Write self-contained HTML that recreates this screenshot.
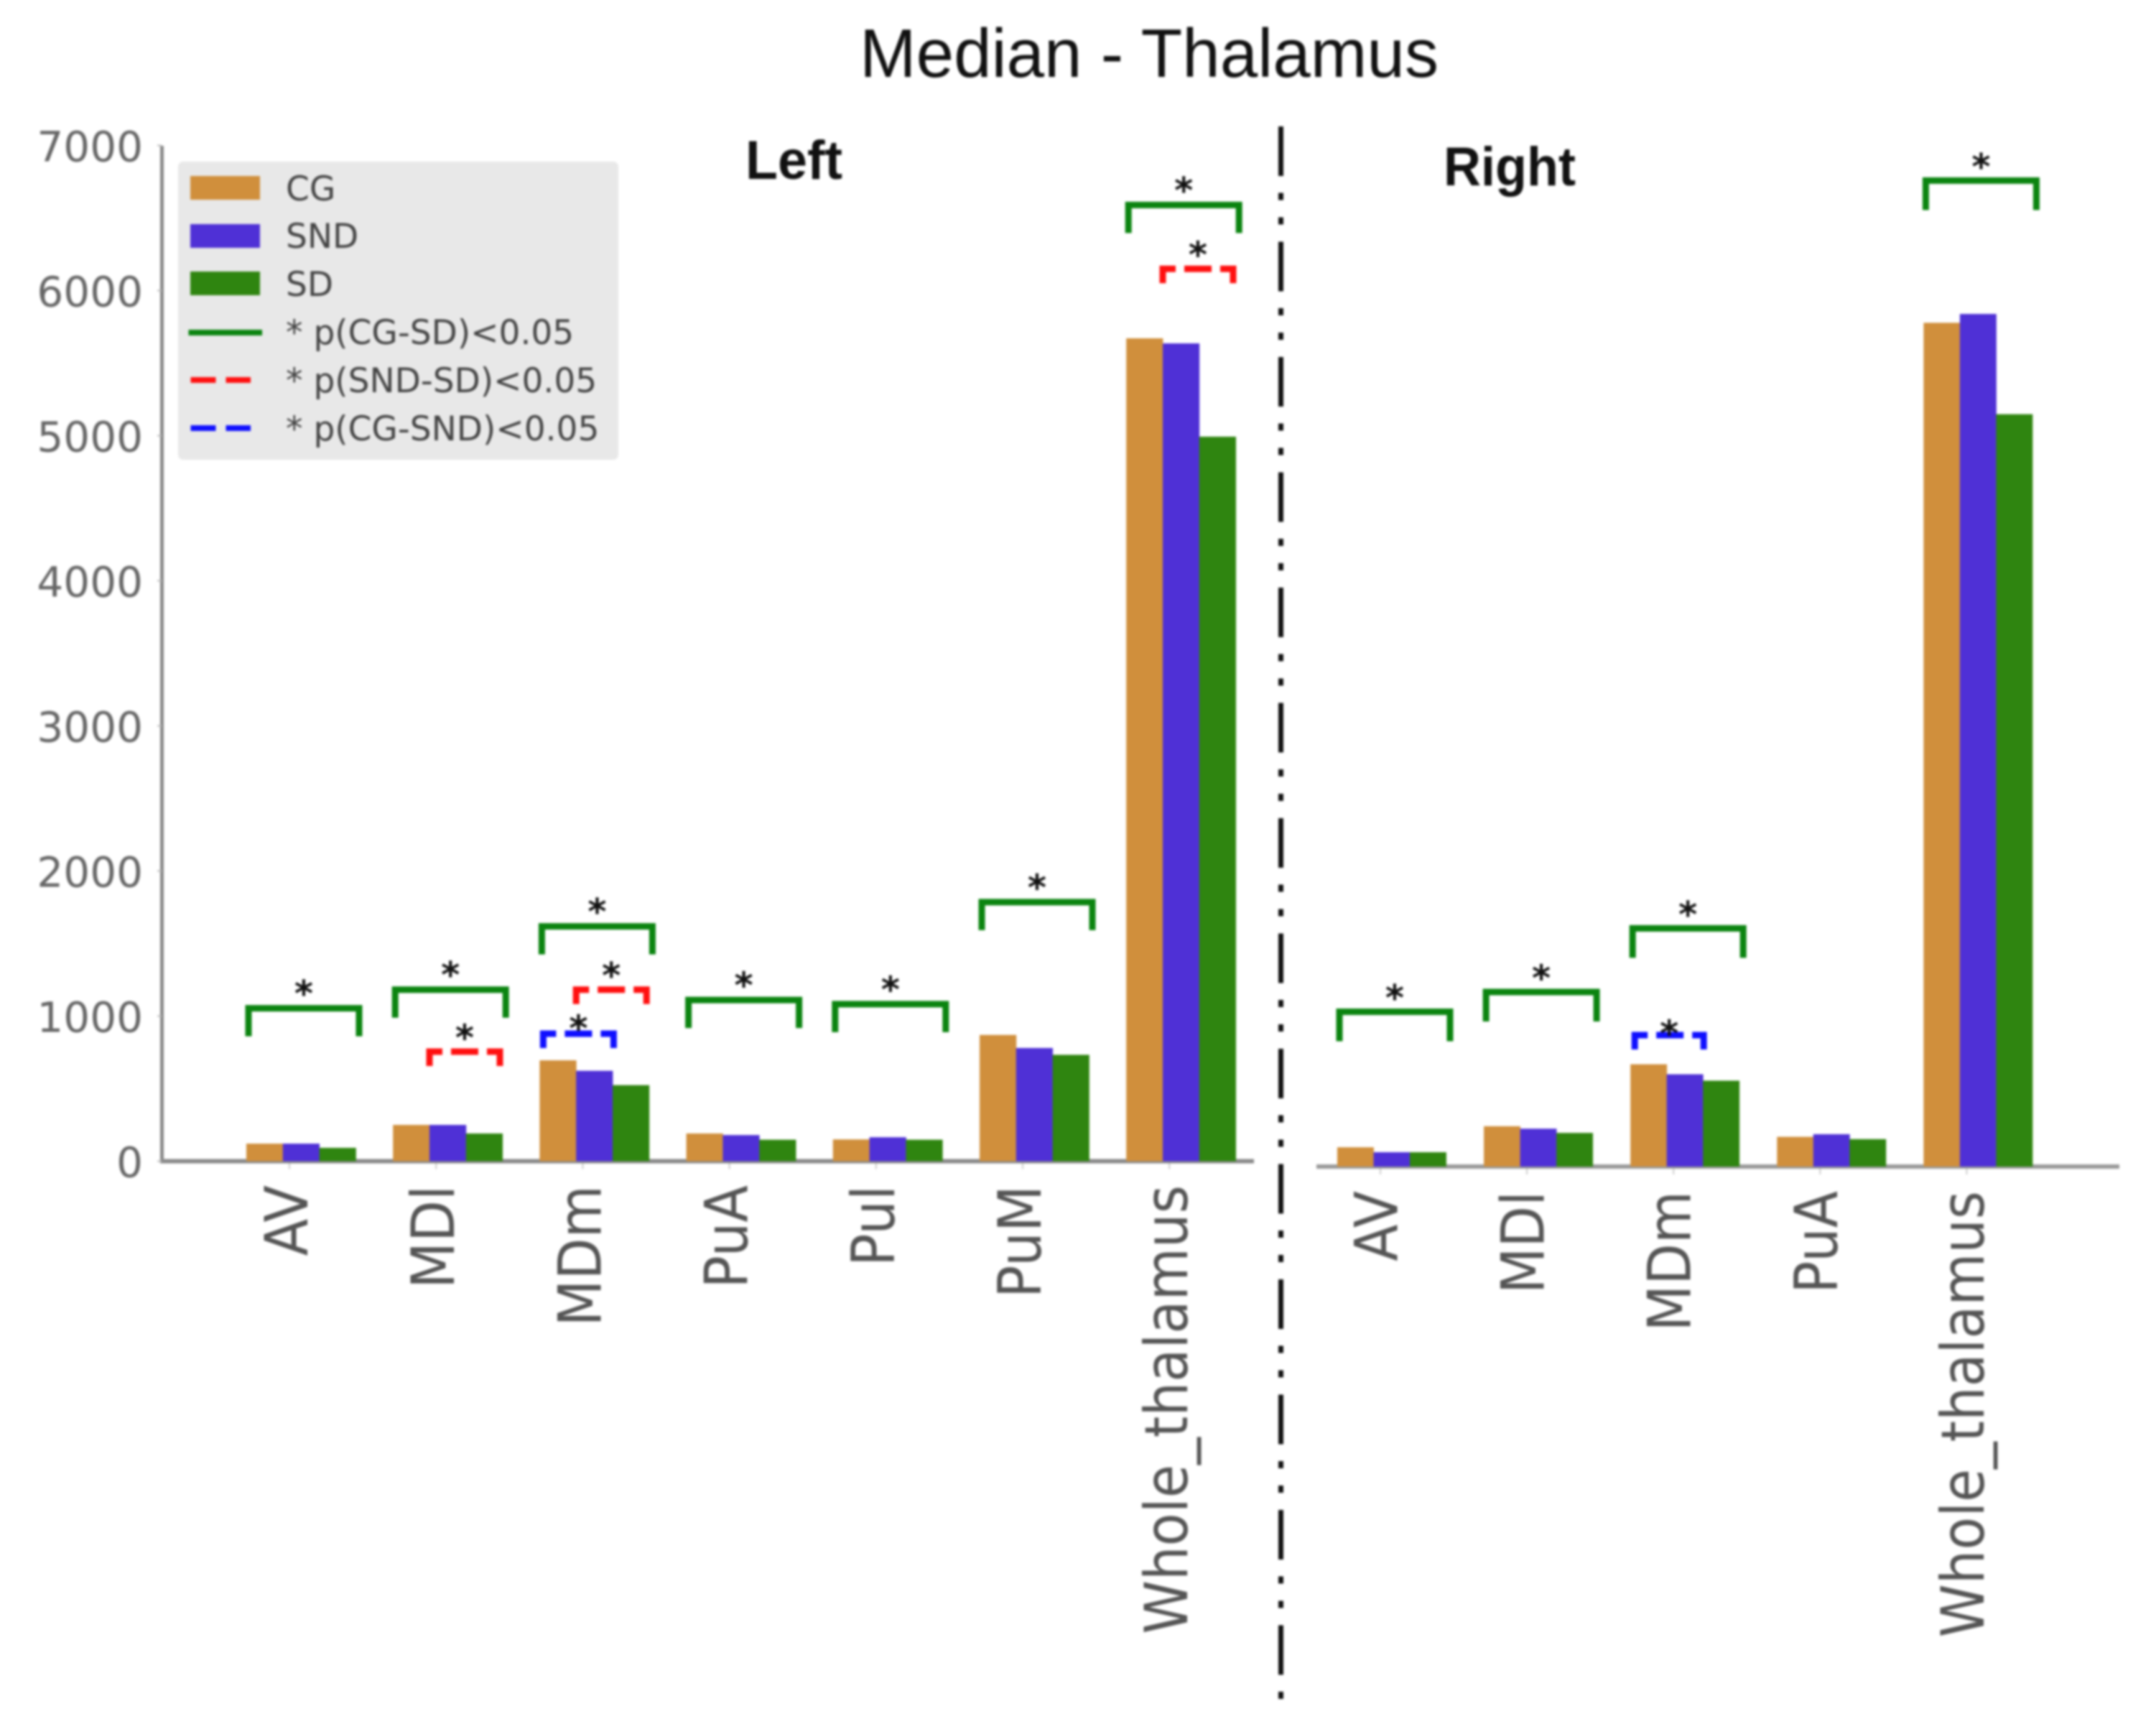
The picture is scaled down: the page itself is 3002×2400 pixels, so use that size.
<!DOCTYPE html>
<html lang="en">
<head>
<meta charset="utf-8">
<title>Median - Thalamus</title>
<style>
html,body{margin:0;padding:0;background:#fff;width:3002px;height:2400px;overflow:hidden}
svg{display:block;filter:blur(1.6px)}
text{font-family:"DejaVu Sans","Liberation Sans",sans-serif}
.cal{font-family:"Liberation Sans",sans-serif}
</style>
</head>
<body>
<svg id="chart" xmlns="http://www.w3.org/2000/svg" width="3002" height="2400" viewBox="0 0 3002 2400">
  <rect x="0" y="0" width="3002" height="2400" fill="#fff"/>
  <text class="cal" x="1197" y="107" font-size="96" textLength="806" lengthAdjust="spacingAndGlyphs" fill="#111">Median - Thalamus</text>
  <text class="cal" x="1038" y="249" font-size="76" font-weight="bold" textLength="135" lengthAdjust="spacingAndGlyphs" fill="#111">Left</text>
  <text class="cal" x="2010" y="258" font-size="76" font-weight="bold" textLength="184" lengthAdjust="spacingAndGlyphs" fill="#111">Right</text>
  <line x1="1783.5" y1="176" x2="1783.5" y2="2370" stroke="#111" stroke-width="7" stroke-dasharray="69 23.5 10 24 10 24"/>
  <g id="plot"></g>
  <g>
    <rect x="248" y="225" width="613" height="415" rx="7" fill="#e8e8e8"/>
    <rect x="265" y="245" width="97" height="33" fill="#d08f3c"/>
    <rect x="265" y="312" width="97" height="33" fill="#4f30d6"/>
    <rect x="265" y="378" width="97" height="33" fill="#2f8510"/>
    <line x1="262.5" y1="463" x2="365" y2="463" stroke="#0b8410" stroke-width="8"/>
    <line x1="265.5" y1="529" x2="349" y2="529" stroke="#ff1010" stroke-width="8" stroke-dasharray="35 14"/>
    <line x1="265.5" y1="596" x2="349" y2="596" stroke="#1010ff" stroke-width="8" stroke-dasharray="35 14"/>
    <g font-size="47" fill="#444">
      <text x="398" y="279">CG</text>
      <text x="398" y="345">SND</text>
      <text x="398" y="412">SD</text>
      <text x="398" y="479">* p(CG-SD)&lt;0.05</text>
      <text x="398" y="546">* p(SND-SD)&lt;0.05</text>
      <text x="398" y="613">* p(CG-SND)&lt;0.05</text>
    </g>
  </g>
</svg>
<script>
// ---- data ----
const leftCategories = ['AV','MDl','MDm','PuA','Pul','PuM','Whole_thalamus'];
const leftCG  = [121,250,695,191,150,870,5671];
const leftSND = [121,250,623,180,165,780,5636];
const leftSD  = [92,191,524,148,148,733,4993];

const rightCategories = ['AV','MDl','MDm','PuA','Whole_thalamus'];
const rightCG  = [133,278,705,205,5815];
const rightSND = [99,261,636,223,5876];
const rightSD  = [99,232,592,189,5185];

const yTicks = [0,1000,2000,3000,4000,5000,6000,7000];

// significance bracket heights per category (null = no bracket)
const leftGreenLevels = [1054,1182,1618,1111,1082,1785,6590];
const leftRedLevels   = [null,755,1182,null,null,null,6150];
const leftBlueLevels  = [null,null,879,null,null,null,null];
const rightGreenLevels = [1067,1203,1642,null,6795];
const rightBlueLevels  = [null,null,906,null,null];

// ---- axis functions ----
const pxPerUnit = 0.202;
const leftBase = 1616.5, rightBase = 1624;
const leftX0 = 343, leftStep = 204.2, leftBar = 50.8;
const rightX0 = 1862, rightStep = 204.1, rightBar = 50.5;
const yLeft = v => leftBase - v * pxPerUnit;
const yRight = v => rightBase - v * pxPerUnit;
const xLeft = (i, s) => leftX0 + i * leftStep + s * leftBar;
const xRight = (i, s) => rightX0 + i * rightStep + s * rightBar;

const colors = {cg:'#d08f3c', snd:'#4f30d6', sd:'#2f8510', green:'#0b8410', red:'#ff1010', blue:'#1010ff'};
const NS = 'http://www.w3.org/2000/svg';
const plot = document.getElementById('plot');

function make(tag, attrs) {
  const el = document.createElementNS(NS, tag);
  for (const k in attrs) el.setAttribute(k, attrs[k]);
  plot.appendChild(el);
  return el;
}

function drawBars(prefix, cats, series, xFn, yFn, base, w) {
  series.forEach((s, si) => {
    s.vals.forEach((v, i) => {
      const top = yFn(v);
      const el = make('rect', {x: xFn(i, si), y: top, width: w + 0.4, height: base - top, fill: s.color});
      
      
    });
  });
}

function drawBracket(prefix, cat, kind, x1, x2, top, drop, color, dashed, starOffset) {
  const path = make('path', {d: 'M' + x1 + ' ' + (top + drop) + 'V' + top + 'H' + x2 + 'V' + (top + drop), fill: 'none', stroke: color, 'stroke-width': 9});
  if (dashed) path.setAttribute('stroke-dasharray', '38 12');
  
  
  const star = make('text', {x: (x1 + x2) / 2, y: top - starOffset + 26, 'font-size': 50, 'font-weight': 'bold', 'text-anchor': 'middle', fill: '#111'});
  star.textContent = '*';
  
  
}

// spines and baselines
const ySpine = make('line', {x1: 225.5, y1: 203, x2: 225.5, y2: 1619, stroke: '#888', 'stroke-width': 5});


const leftAxis = make('line', {x1: 223, y1: leftBase, x2: 1746, y2: leftBase, stroke: '#8a8a8a', 'stroke-width': 6});


const rightAxis = make('line', {x1: 1833, y1: rightBase, x2: 2951, y2: rightBase, stroke: '#999', 'stroke-width': 6});



// y ticks
yTicks.forEach(t => {
  const tick = make('line', {x1: 219, y1: yLeft(t), x2: 225, y2: yLeft(t), stroke: '#bbb', 'stroke-width': 2});
  
  
  const label = make('text', {x: 199, y: yLeft(t) + 22, 'font-size': 58, 'text-anchor': 'end', fill: '#666'});
  label.textContent = String(t);
  
  
});

// bars
drawBars('left', leftCategories, [
  {key:'cg', vals:leftCG, color:colors.cg},
  {key:'snd', vals:leftSND, color:colors.snd},
  {key:'sd', vals:leftSD, color:colors.sd}
], xLeft, yLeft, leftBase, leftBar);
drawBars('right', rightCategories, [
  {key:'cg', vals:rightCG, color:colors.cg},
  {key:'snd', vals:rightSND, color:colors.snd},
  {key:'sd', vals:rightSD, color:colors.sd}
], xRight, yRight, rightBase, rightBar);

// x ticks and labels
function drawCats(prefix, cats, xFn, base, labelBaselineOffset, labelTop, size) {
  cats.forEach((c, i) => {
    const tx = xFn(i, 0) + 60;
    const tick = make('line', {x1: tx, y1: base + 3, x2: tx, y2: base + 11, stroke: '#ccc', 'stroke-width': 2});
    
    
    const lx = xFn(i, 0) + labelBaselineOffset;
    const label = make('text', {transform: 'translate(' + lx + ' ' + labelTop + ') rotate(-90) scale(1 1.1)', 'font-size': size, 'text-anchor': 'end', fill: '#555'});
    label.textContent = c;
    
    
  });
}
drawCats('left', leftCategories, xLeft, leftBase, 85, 1650, 75.4);
drawCats('right', rightCategories, xRight, rightBase, 83.5, 1658, 75);

// significance brackets
leftGreenLevels.forEach((v, i) => {
  if (v === null) return;
  const x = xLeft(i, 0);
  drawBracket('left', leftCategories[i].toLowerCase(), 'cg-sd', x + 3, x + 157, yLeft(v), 39, colors.green, false, 29);
});
leftRedLevels.forEach((v, i) => {
  if (v === null) return;
  const x = xLeft(i, 1);
  drawBracket('left', leftCategories[i].toLowerCase(), 'snd-sd', x, x + 98, yLeft(v), 20, colors.red, true, 28);
});
leftBlueLevels.forEach((v, i) => {
  if (v === null) return;
  const x = xLeft(i, 0);
  drawBracket('left', leftCategories[i].toLowerCase(), 'cg-snd', x + 5, x + 103, yLeft(v), 20, colors.blue, true, 16);
});
rightGreenLevels.forEach((v, i) => {
  if (v === null) return;
  const x = xRight(i, 0);
  drawBracket('right', rightCategories[i].toLowerCase(), 'cg-sd', x + 3, x + 157, yRight(v), 41, colors.green, false, 28);
});
rightBlueLevels.forEach((v, i) => {
  if (v === null) return;
  const x = xRight(i, 0);
  drawBracket('right', rightCategories[i].toLowerCase(), 'cg-snd', x + 6, x + 102, yRight(v), 20, colors.blue, true, 11);
});
</script>
</body>
</html>
